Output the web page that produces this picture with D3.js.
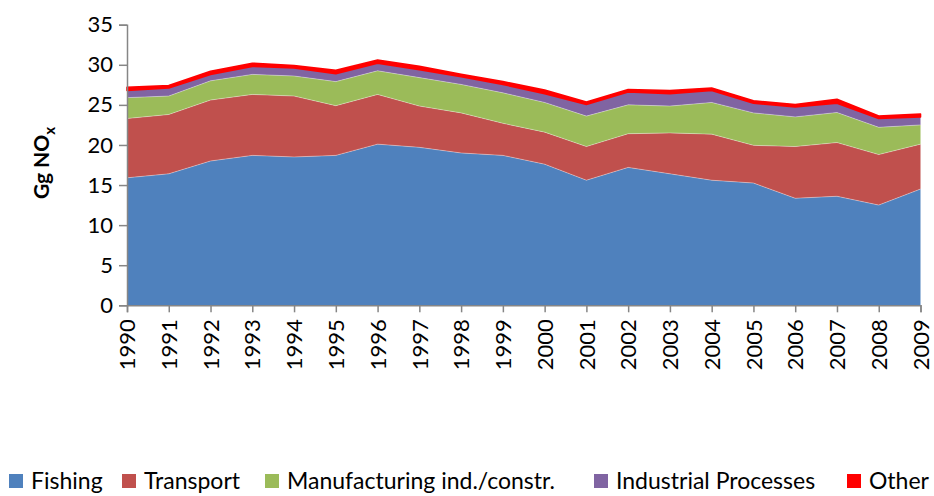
<!DOCTYPE html>
<html>
<head>
<meta charset="utf-8">
<script src="https://cdn.jsdelivr.net/npm/d3@7/dist/d3.min.js"></script>
<style>
  body { margin: 0; background: #fff; }
  svg text { font-family: Lato, "Open Sans", sans-serif; fill: #000; }
</style>
</head>
<body>
<svg id="chart" width="934" height="496"></svg>
<script>
// data (Gg NOx)
var years = [1990, 1991, 1992, 1993, 1994, 1995, 1996, 1997, 1998, 1999,
             2000, 2001, 2002, 2003, 2004, 2005, 2006, 2007, 2008, 2009];
var fishing = [15.9, 16.4, 18.0, 18.7, 18.5, 18.7, 20.1, 19.7, 19.0, 18.7,
               17.6, 15.6, 17.2, 16.4, 15.6, 15.25, 13.35, 13.6, 12.5, 14.5];
var transport = [7.4, 7.4, 7.6, 7.6, 7.6, 6.2, 6.2, 5.15, 5.0, 4.0,
                 4.0, 4.2, 4.2, 5.1, 5.75, 4.7, 6.45, 6.7, 6.3, 5.6];
var manufacturing = [2.6, 2.3, 2.4, 2.5, 2.5, 3.0, 2.95, 3.55, 3.55, 3.8,
                     3.7, 3.8, 3.6, 3.35, 3.95, 4.05, 3.7, 3.75, 3.4, 2.4];
var industrial = [0.9, 1.0, 0.8, 1.0, 1.0, 1.0, 0.95, 1.0, 0.95, 1.05,
                  1.1, 1.45, 1.6, 1.55, 1.5, 1.2, 1.25, 1.15, 1.1, 1.0];
var other = [0.4, 0.3, 0.4, 0.4, 0.3, 0.4, 0.4, 0.4, 0.3, 0.35,
             0.45, 0.3, 0.3, 0.4, 0.3, 0.3, 0.3, 0.5, 0.3, 0.35];
var seriesNames = ["Fishing", "Transport", "Manufacturing ind./constr.", "Industrial Processes", "Other"];
var seriesColors = ["#4f81bd", "#c0504d", "#9bbb59", "#8064a2", "#ff0000"];
var yTicks = [0, 5, 10, 15, 20, 25, 30, 35];

var svg = d3.select("#chart");
var plotLeft = 127, plotRight = 920.5, plotTop = 24.7, plotBottom = 305.3;

var rows = years.map(function(y, i) {
  return { year: y, s0: fishing[i], s1: transport[i], s2: manufacturing[i], s3: industrial[i], s4: other[i] };
});
var keys = ["s0", "s1", "s2", "s3", "s4"];
var stacked = d3.stack().keys(keys)(rows);

var x = d3.scalePoint().domain(years).range([plotLeft, plotRight]);
var y = d3.scaleLinear().domain([0, 35]).range([plotBottom, plotTop]);

var area = d3.area()
  .x(function(d) { return x(d.data.year); })
  .y0(function(d) { return y(d[0]); })
  .y1(function(d) { return y(d[1]); });

svg.append("g").selectAll("path")
  .data(stacked).enter()
  .append("path")
  .attr("d", area)
  .style("fill", function(d, i) { return seriesColors[i]; })
  .style("stroke", function(d, i) { return i == 4 ? "#ff0000" : "none"; })
  .style("stroke-width", 1.6)
  .style("stroke-linejoin", "round");

// thin light edges between the areas, like the original
var edge = d3.line()
  .x(function(d) { return x(d.data.year); })
  .y(function(d) { return y(d[1]); });
svg.append("g").selectAll("path")
  .data(stacked.slice(0, 3)).enter()
  .append("path")
  .attr("d", edge)
  .style("fill", "none")
  .style("stroke", "#ffffff")
  .style("stroke-opacity", 0.35)
  .style("stroke-width", 1);

// axes
var yAxis = svg.append("g")
  .attr("transform", "translate(" + plotLeft + ",0)")
  .call(d3.axisLeft(y).tickValues(yTicks).tickSize(8).tickPadding(6));
var xAxis = svg.append("g")
  .attr("transform", "translate(0," + plotBottom + ")")
  .call(d3.axisBottom(x).tickSize(7).tickPadding(0));

[yAxis, xAxis].forEach(function(ax) {
  ax.select(".domain").style("stroke", "#868686").style("stroke-width", 1.5);
  ax.selectAll(".tick line").style("stroke", "#868686").style("stroke-width", 1.5);
});
yAxis.selectAll("text").style("font-size", "22px").style("fill", "#000");
xAxis.selectAll("text")
  .style("font-size", "22px").style("fill", "#000")
  .attr("transform", "rotate(-90)")
  .attr("text-anchor", "end")
  .attr("x", -14).attr("y", 0).attr("dy", "0.35em");

// y title
var title = svg.append("text")
  .attr("transform", "translate(49,163) rotate(-90)")
  .attr("text-anchor", "middle")
  .style("font-size", "21px")
  .style("font-weight", "bold");
title.append("tspan").text("Gg NO");
title.append("tspan").text("x").attr("dy", 6).style("font-size", "15px");

// legend
var legendX = [9, 122, 265, 594, 847];
var legend = svg.append("g").selectAll("g")
  .data(seriesNames).enter()
  .append("g")
  .attr("transform", function(d, i) { return "translate(" + legendX[i] + ",474)"; });
legend.append("rect")
  .attr("width", 14).attr("height", 14)
  .style("fill", function(d, i) { return seriesColors[i]; });
legend.append("text")
  .attr("x", 22).attr("y", 7).attr("dy", "0.36em")
  .style("font-size", "23px")
  .text(function(d) { return d; });
</script>
</body>
</html>
